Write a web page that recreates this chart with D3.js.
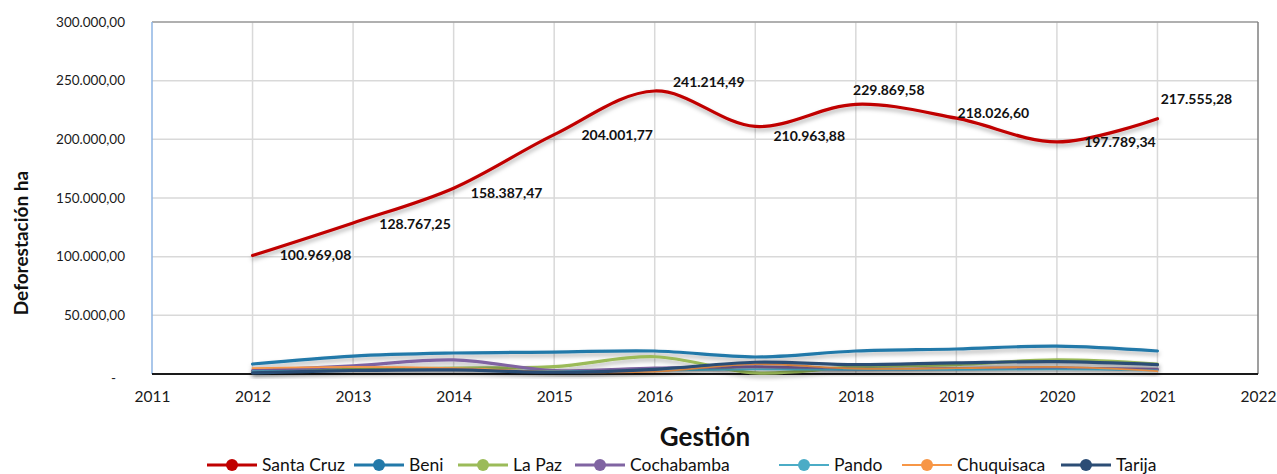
<!DOCTYPE html>
<html>
<head>
<meta charset="utf-8">
<script src="https://cdn.jsdelivr.net/npm/d3@7"></script>
<style>
  body { margin: 0; background: #fff; }
  svg { display: block; font-family: Lato, 'Open Sans', sans-serif; }
</style>
</head>
<body>
<div id="chart"></div>
<script>
// Data (hectares deforested per year)
const years = [2012, 2013, 2014, 2015, 2016, 2017, 2018, 2019, 2020, 2021];
const santaCruz = [100969.08, 128767.25, 158387.47, 204001.77, 241214.49, 210963.88, 229869.58, 218026.60, 197789.34, 217555.28];
const beni = [8500, 15300, 17900, 18700, 19600, 14500, 19600, 21300, 23800, 19600];
const laPaz = [2500, 4000, 5000, 6300, 14700, 1000, 6000, 8000, 12000, 8500];
const cochabamba = [3000, 7000, 12000, 3000, 5000, 6000, 4000, 4500, 5000, 4000];
const pando = [2500, 3000, 3500, 2500, 3000, 4000, 3500, 3500, 4000, 3000];
const chuquisaca = [5000, 6000, 5000, 2000, 2000, 8500, 4500, 5000, 6000, 2500];
const tarija = [1000, 3000, 3500, 1500, 4000, 10000, 8000, 9500, 10500, 8000];
const yTicks = [0, 50000, 100000, 150000, 200000, 250000, 300000];
const xTicks = [2011, 2012, 2013, 2014, 2015, 2016, 2017, 2018, 2019, 2020, 2021, 2022];

const series = [
  { name: 'Santa Cruz', values: santaCruz, color: '#C00000', width: 3.2 },
  { name: 'Beni', values: beni, color: '#2279A9', width: 3.2 },
  { name: 'La Paz', values: laPaz, color: '#9BBB59', width: 3.2 },
  { name: 'Cochabamba', values: cochabamba, color: '#8064A2', width: 3.2 },
  { name: 'Pando', values: pando, color: '#4BACC6', width: 1.8 },
  { name: 'Chuquisaca', values: chuquisaca, color: '#F79646', width: 1.8 },
  { name: 'Tarija', values: tarija, color: '#2C4D75', width: 3.2 }
];

// label offsets for the Santa Cruz data labels (center relative to point)
const labelOffsets = [[63, 0], [62, 1], [53, 5], [63, 0], [54, -9], [54, 10], [33, -14], [37, -5], [63, 0], [39, -20]];

const width = 1277, height = 474;
const marginLeft = 152, marginRight = 19, marginTop = 22, marginBottom = 100;
const chartWidth = width - marginLeft - marginRight;
const chartHeight = height - marginTop - marginBottom;

const locale = d3.formatLocale({ decimal: ',', thousands: '.', grouping: [3], currency: ['', ''] });
const fmt = locale.format(',.2f');

const svg = d3.select('#chart')
  .append('svg')
  .attr('width', width)
  .attr('height', height);

// drop shadow under lines
const defs = svg.append('defs');
const filter = defs.append('filter')
  .attr('id', 'shadow')
  .attr('x', '-5%').attr('y', '-50%')
  .attr('width', '110%').attr('height', '200%');
filter.append('feDropShadow')
  .attr('dx', 0.5)
  .attr('dy', 3)
  .attr('stdDeviation', 2)
  .attr('flood-color', '#000')
  .attr('flood-opacity', 0.3);

const g = svg.append('g')
  .attr('transform', `translate(${marginLeft},${marginTop})`);

const x = d3.scaleLinear().domain([2011, 2022]).range([0, chartWidth]);
const y = d3.scaleLinear().domain([0, 300000]).range([chartHeight, 0]);

// Grid lines
g.append('g')
  .selectAll('line')
  .data(yTicks.slice(1))
  .join('line')
  .attr('x1', 0).attr('x2', chartWidth)
  .attr('y1', d => y(d)).attr('y2', d => y(d))
  .attr('stroke', '#D9D9D9')
  .attr('stroke-width', 1.5);

g.append('g')
  .selectAll('line')
  .data(xTicks.slice(1, -1))
  .join('line')
  .attr('x1', d => x(d)).attr('x2', d => x(d))
  .attr('y1', 0).attr('y2', chartHeight)
  .attr('stroke', '#D9D9D9')
  .attr('stroke-width', 1.5);

// Plot border (top / right gray, left light blue)
g.append('line').attr('x1', 0).attr('x2', chartWidth).attr('y1', 0).attr('y2', 0)
  .attr('stroke', '#7F7F7F').attr('stroke-width', 1);
g.append('line').attr('x1', chartWidth).attr('x2', chartWidth).attr('y1', 0).attr('y2', chartHeight)
  .attr('stroke', '#7F7F7F').attr('stroke-width', 1.5);
g.append('line').attr('x1', 0).attr('x2', 0).attr('y1', 0).attr('y2', chartHeight)
  .attr('stroke', '#8EB4E3').attr('stroke-width', 1.5);

// Y axis
const yAxis = g.append('g')
  .call(d3.axisLeft(y).tickValues(yTicks).tickSize(0).tickPadding(27)
    .tickFormat(d => d === 0 ? '-' : fmt(d)));
yAxis.select('.domain').remove();
yAxis.selectAll('text')
  .style('font-size', '13.5px')
  .style('font-family', 'Lato, sans-serif')
  .attr('fill', '#1a1a1a');
yAxis.selectAll('text').filter(d => d === 0)
  .attr('dx', -9).attr('dy', '0.6em');

// X axis
const xAxis = g.append('g')
  .attr('transform', `translate(0,${chartHeight})`)
  .call(d3.axisBottom(x).tickValues(xTicks).tickSize(0).tickPadding(17).tickFormat(d3.format('d')));
xAxis.select('.domain').remove();
xAxis.selectAll('text')
  .style('font-size', '15.5px')
  .style('font-family', 'Lato, sans-serif')
  .attr('fill', '#1a1a1a');

// Axis baseline
g.append('line').attr('x1', 0).attr('x2', chartWidth).attr('y1', chartHeight).attr('y2', chartHeight)
  .attr('stroke', '#1a1a1a').attr('stroke-width', 2);

// Lines
const line = d3.line()
  .x((d, i) => x(years[i]))
  .y(d => y(d))
  .curve(d3.curveCatmullRom.alpha(0.5));

const drawOrder = series.slice(1).concat([series[0]]);
g.append('g')
  .selectAll('path')
  .data(drawOrder)
  .join('path')
  .attr('d', d => line(d.values))
  .attr('fill', 'none')
  .attr('stroke', d => d.color)
  .attr('stroke-width', d => d.width)
  .attr('stroke-linecap', 'round')
  .attr('filter', 'url(#shadow)');

// Data labels (Santa Cruz)
g.append('g')
  .selectAll('text')
  .data(santaCruz)
  .join('text')
  .attr('x', (d, i) => x(years[i]) + labelOffsets[i][0])
  .attr('y', (d, i) => y(d) + labelOffsets[i][1])
  .attr('text-anchor', 'middle')
  .attr('dy', '0.35em')
  .style('font-size', '14px')
  .style('font-weight', 'bold')
  .style('font-family', 'Lato, sans-serif')
  .attr('fill', '#111')
  .text(d => fmt(d));

// Axis titles
svg.append('text')
  .attr('transform', 'rotate(-90)')
  .attr('x', -243)
  .attr('y', 28)
  .attr('text-anchor', 'middle')
  .style('font-size', '19px')
  .style('font-weight', 'bold')
  .style('font-family', 'Lato, sans-serif')
  .attr('fill', '#111')
  .text('Deforestación ha');

svg.append('text')
  .attr('x', 705)
  .attr('y', 446)
  .attr('text-anchor', 'middle')
  .style('font-size', '26px')
  .style('font-weight', 'bold')
  .style('font-family', 'Lato, sans-serif')
  .attr('fill', '#111')
  .text('Gestión');

// Legend
const legendX = [207, 354, 458, 575, 779, 902, 1061];
const legend = svg.append('g').attr('transform', 'translate(0,465)');
series.forEach((s, i) => {
  const item = legend.append('g').attr('transform', `translate(${legendX[i]},0)`);
  item.append('line')
    .attr('x1', 0).attr('x2', 50)
    .attr('stroke', s.color)
    .attr('stroke-width', s.width);
  item.append('circle')
    .attr('cx', 25).attr('r', 6)
    .attr('fill', s.color);
  item.append('text')
    .attr('x', 55)
    .attr('dy', '0.35em')
    .style('font-size', '17.5px')
    .style('font-family', 'Lato, sans-serif')
    .attr('fill', '#111')
    .text(s.name);
});
</script>
</body>
</html>
